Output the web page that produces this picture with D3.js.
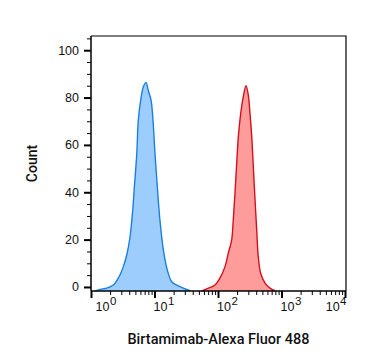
<!DOCTYPE html>
<html>
<head>
<meta charset="utf-8">
<script src="https://cdn.jsdelivr.net/npm/d3@7"></script>
<style>
  body { margin: 0; background: #fff; }
  svg { font-family: Roboto, "Noto Sans", sans-serif; }
</style>
</head>
<body>
<svg id="chart" width="367" height="364"></svg>
<script>
// fluorescence intensity (linear units) and smoothed counts
let isoX = [1.16, 1.39, 1.77, 2.24, 2.69, 3.23, 3.65, 4.11, 4.54, 4.81, 5.25, 5.56, 6.07, 6.67,
            7.35, 7.98, 8.81, 9.38, 10.2, 11.1, 12.2, 13.8, 15.9, 18.7, 22.4, 28.4, 36.2];
let isoCount = [-1.7, -1.0, -0.5, 0.8, 3.7, 8.6, 13.5, 21, 32.5, 42, 56, 70.5, 79, 84.5,
                86.4, 83, 79, 72, 56, 42, 28, 15.6, 7.2, 2.2, 0.8, -0.5, -1.6];
let stainX = [55.4, 70.3, 89.7, 107, 129, 145, 164, 174, 185, 197, 209, 228, 250, 276,
              300, 319, 340, 360, 383, 407, 431, 470, 550, 659, 790];
let stainCount = [-1.7, -0.5, 0.8, 3.7, 8.6, 14.2, 19.8, 28.3, 39.5, 52.2, 63.4, 73.3, 80.3, 85,
                  81, 73.3, 63.4, 50.8, 36.7, 24, 12.8, 5.8, 1.6, -0.5, -1.6];
let xMajor = [1, 10, 100, 1000, 10000];
let yMajor = [0, 20, 40, 60, 80, 100];
let xTitle = "Birtamimab-Alexa Fluor 488";
let yTitle = "Count";

let svg = d3.select("svg#chart"),
    margin = {top: 36, right: 21, bottom: 73, left: 91},
    width = +svg.attr("width") - margin.left - margin.right,
    height = +svg.attr("height") - margin.top - margin.bottom,
    g = svg.append("g").attr("transform", "translate(" + margin.left + "," + margin.top + ")");

let x = d3.scaleLog().domain([1, 10000]).range([0, width - 1]);
let y = d3.scaleLinear().domain([-1.7, 106]).range([height, 0]);

let area = d3.area()
    .curve(d3.curveCatmullRom)
    .x(function(d) { return x(d[0]); })
    .y0(height)
    .y1(function(d) { return y(d[1]); });
let line = d3.line()
    .curve(d3.curveCatmullRom)
    .x(function(d) { return x(d[0]); })
    .y(function(d) { return y(d[1]); });

let series = [
    {pts: d3.zip(isoX, isoCount), fill: "#9dcdfd", stroke: "#1c7fe0"},
    {pts: d3.zip(stainX, stainCount), fill: "#fe9c9c", stroke: "#d5101d"}
];
series.forEach(function(s) {
    g.append("path").datum(s.pts).attr("d", area).attr("fill", s.fill);
    g.append("path").datum(s.pts).attr("d", line)
        .attr("fill", "none").attr("stroke", s.stroke).attr("stroke-width", 1.4);
});

// frame
g.append("path")
    .attr("d", "M0,0H" + width + "V" + height)
    .attr("fill", "none").attr("stroke", "#000").attr("stroke-width", 1.2);

// y axis: minor then major
let yMinor = d3.range(0, 106, 5).filter(function(v) { return v % 20 !== 0; });
g.append("g")
    .call(d3.axisLeft(y).tickValues(yMinor).tickSize(4).tickFormat(""))
    .call(function(a) { a.select(".domain").remove(); a.selectAll("line").attr("stroke-width", 1); });
g.append("g")
    .call(d3.axisLeft(y).tickValues(yMajor).tickSize(7).tickSizeOuter(0).tickPadding(5))
    .call(function(a) {
        a.select(".domain").attr("d", "M0,0V" + height).attr("stroke-width", 1.5);
        a.selectAll("line").attr("stroke-width", 2);
        a.selectAll("text").attr("font-size", 12.5).attr("fill", "#111").attr("font-family", null);
    });

// x axis: minor then major
let xMinor = [];
[1, 10, 100, 1000].forEach(function(dec) {
    d3.range(2, 10).forEach(function(k) { xMinor.push(dec * k); });
});
g.append("g")
    .attr("transform", "translate(0," + height + ")")
    .call(d3.axisBottom(x).tickValues(xMinor).tickSize(4).tickFormat(""))
    .call(function(a) { a.select(".domain").remove(); a.selectAll("line").attr("stroke-width", 1); });
g.append("g")
    .attr("transform", "translate(0," + height + ")")
    .call(d3.axisBottom(x).tickValues(xMajor).tickSize(7).tickSizeOuter(0).tickFormat(""))
    .call(function(a) {
        a.select(".domain").attr("d", "M0,0H" + width).attr("stroke-width", 1.5);
        a.selectAll("line").attr("stroke-width", 2);
        a.selectAll(".tick").each(function(d, i) {
            let last = i === xMajor.length - 1;
            let t = d3.select(this).append("text")
                .attr("y", 20)
                .attr("x", i === 0 ? 4 : (last ? 1 : -1.5))
                .attr("text-anchor", last ? "end" : "start")
                .attr("fill", "#111").attr("font-size", 12.5);
            t.append("tspan").text("10");
            t.append("tspan").attr("dy", -6).attr("dx", 0.5).attr("font-size", 11.5)
                .text(Math.round(Math.log10(d)));
        });
    });

// titles
svg.append("text")
    .attr("x", margin.left + width / 2)
    .attr("y", 344)
    .attr("text-anchor", "middle")
    .attr("font-size", 14.5).attr("font-weight", 500).attr("fill", "#111")
    .text(xTitle);
svg.append("text")
    .attr("transform", "translate(36.5," + (margin.top + height / 2) + ") rotate(-90)")
    .attr("text-anchor", "middle")
    .attr("font-size", 14).attr("font-weight", 500).attr("fill", "#111")
    .text(yTitle);
</script>
</body>
</html>
